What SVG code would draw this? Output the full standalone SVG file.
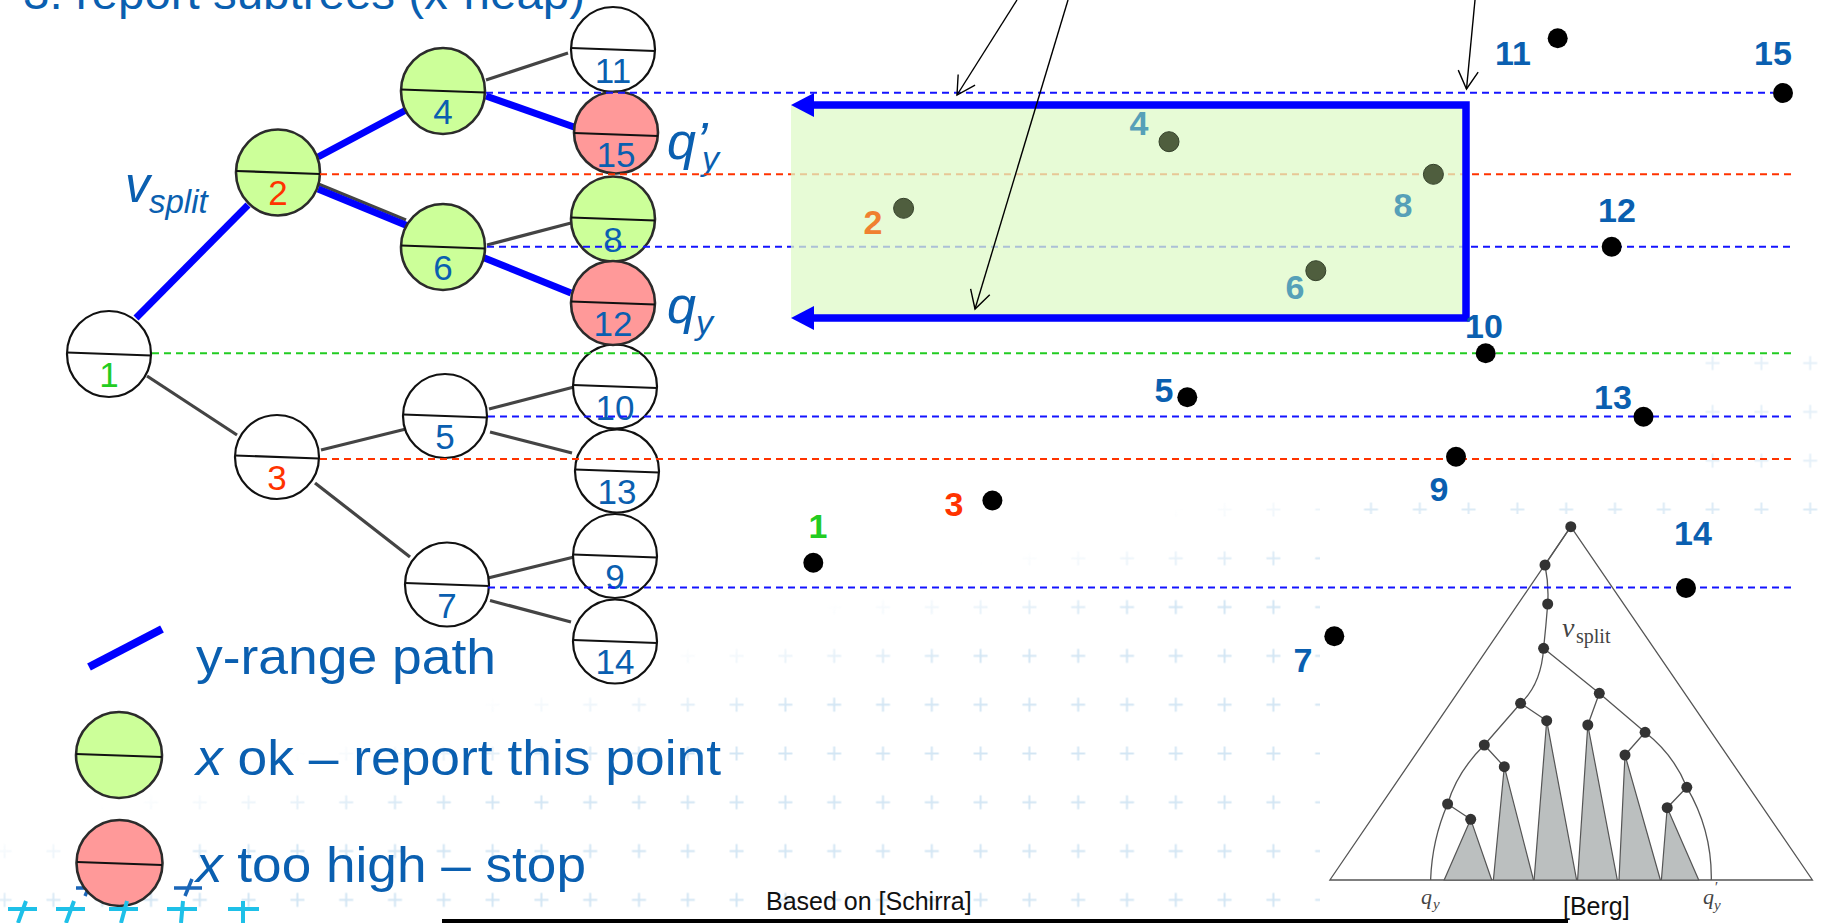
<svg xmlns="http://www.w3.org/2000/svg" width="1832" height="923" viewBox="0 0 1832 923">
<style>
text{font-family:"Liberation Sans",Arial,sans-serif}
.nd{stroke:#2b2b2b;stroke-width:2.6}
.wh{fill:#fff;stroke:#111;stroke-width:2.2}
.gr{fill:#ccff99}
.rd{fill:#ff9999}
.dv{stroke:#111;stroke-width:2.2}
.nl{font-size:35px;fill:#0a5fb0;text-anchor:middle}
.bp{stroke:#0000ff;stroke-width:7;fill:none}
.ed{stroke:#444;stroke-width:3.2}
.da{stroke-width:2;stroke-dasharray:7 5;fill:none}
.db{stroke:#1414ff}
.dr{stroke:#ff3300}
.dg{stroke:#22cc22}
.pt{fill:#000}
.pin{fill:#4f5e3e;stroke:#34402a;stroke-width:1}
.pl{font-size:34px;font-weight:bold;fill:#0a5fb0;text-anchor:middle}
.ar{stroke:#000;stroke-width:1.4;fill:none;marker-end:url(#open)}
.lg{font-size:50px;fill:#0a5fb0}
.bl{stroke:#555;stroke-width:1.3;fill:none}
.st{fill:#bbbfbf;stroke:#555;stroke-width:1.2}
.bd{fill:#333}
.cy{stroke:#1ec0e8;stroke-width:4;fill:none}
.cb{stroke:#1a66b8;stroke-width:3.5;fill:none}
.sf{font-family:"Liberation Serif","Times New Roman",serif;fill:#444}
</style>
<defs>
<marker id="open" markerUnits="userSpaceOnUse" markerWidth="22" markerHeight="22" refX="19" refY="11" orient="auto" overflow="visible">
<path d="M1,1 L19,11 L1,21" fill="none" stroke="#000" stroke-width="1.4"/>
</marker>
<pattern id="cross" patternUnits="userSpaceOnUse" x="-19.8" y="-2.9" width="48.8" height="48.8">
<path d="M17.4,24.4 H31.4 M24.4,17.4 V31.4" stroke="#d3e6f4" stroke-width="2"/>
</pattern>
<linearGradient id="gA" gradientUnits="userSpaceOnUse" x1="642" y1="656" x2="666" y2="743">
<stop offset="0" stop-color="#000"/>
<stop offset="1" stop-color="#fff"/>
</linearGradient>
<mask id="mA"><rect x="0" y="470" width="1320" height="453" fill="url(#gA)"/></mask>
</defs>

<g id="background">
<rect width="1832" height="923" fill="#fff"/>
<rect x="0" y="470" width="1320" height="453" fill="url(#cross)" mask="url(#mA)"/>
<rect x="1360" y="490" width="472" height="24" fill="url(#cross)" opacity="0.8"/>
<rect x="1690" y="340" width="142" height="150" fill="url(#cross)" opacity="0.6"/>
</g>

<text id="title" x="23" y="9" font-size="46" fill="#0a5fb0" textLength="562" lengthAdjust="spacingAndGlyphs">3. report subtrees (x-heap)</text>

<g id="berg-figure">
<rect x="1320" y="514" width="512" height="405" fill="#fff"/>
<polygon class="bl" points="1570.8,526.7 1329.9,880 1812.4,880"/>
<polygon class="st" points="1470.7,819.3 1444.2,880 1491.7,880"/>
<polygon class="st" points="1504.3,766.7 1493.4,880 1533.5,880"/>
<polygon class="st" points="1546.7,720.7 1534.1,880 1576.6,880"/>
<polygon class="st" points="1587.8,725 1577.6,880 1617.3,880"/>
<polygon class="st" points="1625,755 1619,880 1660.4,880"/>
<polygon class="st" points="1667.2,807.7 1661.4,880 1698.7,880"/>
<path class="bl" d="M1570.8,526.7 L1545,565 Q1549,585 1547.7,604 Q1546,626 1543.6,648.3 C1542,672 1535,690 1520.6,703.3 L1484.3,745 Q1457,772 1447.6,804 Q1432,840 1430.6,880"/>
<path class="bl" d="M1520.6,703.3 L1546.7,720.7 M1484.3,745 L1504.3,766.7 M1447.6,804 L1470.7,819.3"/>
<path class="bl" d="M1543.6,648.3 L1599.3,693.3 L1645.1,732.3 Q1674,755 1686.8,787.3 Q1712,830 1711.3,880"/>
<path class="bl" d="M1599.3,693.3 L1587.8,725 M1645.1,732.3 L1625,755 M1686.8,787.3 L1667.2,807.7"/>
<g class="bd">
<circle cx="1570.8" cy="526.7" r="5.5"/>
<circle cx="1545" cy="565" r="5.5"/>
<circle cx="1547.7" cy="604" r="5.5"/>
<circle cx="1543.6" cy="648.3" r="5.5"/>
<circle cx="1520.6" cy="703.3" r="5.5"/>
<circle cx="1599.3" cy="693.3" r="5.5"/>
<circle cx="1546.7" cy="720.7" r="5.5"/>
<circle cx="1484.3" cy="745" r="5.5"/>
<circle cx="1504.3" cy="766.7" r="5.5"/>
<circle cx="1447.6" cy="804" r="5.5"/>
<circle cx="1470.7" cy="819.3" r="5.5"/>
<circle cx="1587.8" cy="725" r="5.5"/>
<circle cx="1645.1" cy="732.3" r="5.5"/>
<circle cx="1625" cy="755" r="5.5"/>
<circle cx="1686.8" cy="787.3" r="5.5"/>
<circle cx="1667.2" cy="807.7" r="5.5"/>
</g>
<text class="sf" x="1562" y="637" font-size="28" font-style="italic">v</text>
<text class="sf" x="1576" y="643" font-size="20">split</text>
<text class="sf" x="1421" y="904" font-size="22" font-style="italic">q</text>
<text class="sf" x="1433" y="909" font-size="15" font-style="italic">y</text>
<text class="sf" x="1703" y="904" font-size="22" font-style="italic">q</text>
<text class="sf" x="1714" y="892" font-size="15" font-style="italic">′</text>
<text class="sf" x="1714" y="910" font-size="15" font-style="italic">y</text>
<text x="1563" y="915" font-size="25" fill="#111">[Berg]</text>
</g>

<g id="connectors">
<line class="bp" x1="136" y1="318" x2="248" y2="205"/>
<line class="bp" x1="318" y1="157" x2="406" y2="110"/>
<line class="ed" x1="316" y1="183" x2="406" y2="220"/>
<line class="bp" x1="318" y1="189" x2="408" y2="226"/>
<line class="bp" x1="486" y1="96" x2="574" y2="127"/>
<line class="bp" x1="482" y1="257" x2="571" y2="293"/>
<line class="ed" x1="486" y1="80" x2="568" y2="53"/>
<line class="ed" x1="487" y1="245" x2="571" y2="223"/>
<line class="ed" x1="147" y1="376" x2="237" y2="435"/>
<line class="ed" x1="321" y1="450" x2="410" y2="428"/>
<line class="ed" x1="315" y1="483" x2="410" y2="557"/>
<line class="ed" x1="489" y1="409" x2="574" y2="387"/>
<line class="ed" x1="490" y1="432" x2="572" y2="453"/>
<line class="ed" x1="488" y1="578" x2="574" y2="557"/>
<line class="ed" x1="490" y1="600.5" x2="571" y2="622"/>
</g>

<g id="n1"><ellipse class="wh" cx="109" cy="354" rx="42" ry="43"/><line class="dv" x1="67" y1="352.5" x2="151" y2="355.5"/><text class="nl" x="109" y="387" style="fill:#22cc22">1</text></g>
<g id="n2"><ellipse class="nd gr" cx="278" cy="172.5" rx="42" ry="43"/><line class="dv" x1="236" y1="171" x2="320" y2="174"/><text class="nl" x="278" y="205" style="fill:#ff3300">2</text></g>
<g id="n3"><ellipse class="wh" cx="277" cy="457" rx="42" ry="42"/><line class="dv" x1="235" y1="455.5" x2="319" y2="458.5"/><text class="nl" x="277" y="490" style="fill:#ff3300">3</text></g>
<g id="n4"><ellipse class="nd gr" cx="443" cy="91" rx="42" ry="43"/><line class="dv" x1="401" y1="89.5" x2="485" y2="92.5"/><text class="nl" x="443" y="124">4</text></g>
<g id="n5"><ellipse class="nd wh" cx="445" cy="416" rx="42" ry="42"/><line class="dv" x1="403" y1="414.5" x2="487" y2="417.5"/><text class="nl" x="445" y="449">5</text></g>
<g id="n6"><ellipse class="nd gr" cx="443" cy="247" rx="42" ry="43"/><line class="dv" x1="401" y1="245.5" x2="485" y2="248.5"/><text class="nl" x="443" y="280">6</text></g>
<g id="n7"><ellipse class="wh" cx="447" cy="584.5" rx="42" ry="42"/><line class="dv" x1="405" y1="583" x2="489" y2="586"/><text class="nl" x="447" y="618">7</text></g>
<g id="n8"><ellipse class="nd gr" cx="613" cy="219" rx="42" ry="42.5"/><line class="dv" x1="571" y1="217.5" x2="655" y2="220.5"/><text class="nl" x="613" y="252">8</text></g>
<g id="n9"><ellipse class="wh" cx="615" cy="556" rx="42" ry="42"/><line class="dv" x1="573" y1="554.5" x2="657" y2="557.5"/><text class="nl" x="615" y="589">9</text></g>
<g id="n10"><ellipse class="wh" cx="615" cy="386.5" rx="42" ry="42"/><line class="dv" x1="573" y1="385" x2="657" y2="388"/><text class="nl" x="615" y="420">10</text></g>
<g id="n11"><ellipse class="wh" cx="613" cy="49.5" rx="42" ry="42.5"/><line class="dv" x1="571" y1="48" x2="655" y2="51"/><text class="nl" x="613" y="83">11</text></g>
<g id="n12"><ellipse class="nd rd" cx="613" cy="303" rx="42" ry="42"/><line class="dv" x1="571" y1="301.5" x2="655" y2="304.5"/><text class="nl" x="613" y="336">12</text></g>
<g id="n13"><ellipse class="wh" cx="617" cy="471" rx="42" ry="41.5"/><line class="dv" x1="575" y1="469.5" x2="659" y2="472.5"/><text class="nl" x="617" y="504">13</text></g>
<g id="n14"><ellipse class="wh" cx="615" cy="641.5" rx="42" ry="42"/><line class="dv" x1="573" y1="640" x2="657" y2="643"/><text class="nl" x="615" y="674">14</text></g>
<g id="n15"><ellipse class="nd rd" cx="616" cy="132.5" rx="42" ry="41"/><line class="dv" x1="574" y1="133" x2="658" y2="136"/><text class="nl" x="616" y="167">15</text></g>

<g id="tree-labels" fill="#0a5fb0" font-style="italic">
<text x="125" y="202" font-size="50">v</text>
<text x="149" y="213" font-size="33">split</text>
<text x="667" y="159" font-size="52">q’</text>
<text x="702" y="170" font-size="34">y</text>
<text x="667" y="323" font-size="52">q</text>
<text x="696" y="334" font-size="34">y</text>
</g>

<g id="dashed-lines">
<line class="da db" x1="486" y1="92.7" x2="1773" y2="92.7"/>
<line class="da dr" x1="320" y1="174.3" x2="1793" y2="174.3"/>
<line class="da db" x1="487" y1="246.7" x2="1793" y2="246.7"/>
<line class="da dg" x1="152" y1="353.3" x2="1792" y2="353.3"/>
<line class="da db" x1="488" y1="416.5" x2="1792" y2="416.5"/>
<line class="da dr" x1="320" y1="459" x2="1792" y2="459"/>
<line class="da db" x1="488" y1="587.5" x2="1792" y2="587.5"/>
</g>

<g id="query-range">
<rect x="791" y="105" width="675" height="213" fill="#dffac8" opacity="0.75"/>
<path d="M812,105 H1466 V318 H812" fill="none" stroke="#0000ff" stroke-width="7.5" stroke-linejoin="miter"/>
<polygon points="791,105 814,93 814,117" fill="#0000ff"/>
<polygon points="791,318 814,306 814,330" fill="#0000ff"/>
</g>

<g id="points">
<circle class="pin" cx="1169" cy="141.7" r="10"/>
<circle class="pin" cx="1433.4" cy="174.3" r="10"/>
<circle class="pin" cx="903.6" cy="208.3" r="10"/>
<circle class="pin" cx="1315.8" cy="270.7" r="10"/>
<circle class="pt" cx="1557.7" cy="38.3" r="10"/>
<circle class="pt" cx="1783" cy="93" r="10"/>
<circle class="pt" cx="1611.7" cy="246.7" r="10"/>
<circle class="pt" cx="1485.7" cy="353.3" r="10"/>
<circle class="pt" cx="1643.5" cy="416.7" r="10"/>
<circle class="pt" cx="1456" cy="456.7" r="10"/>
<circle class="pt" cx="1187.3" cy="397.3" r="10"/>
<circle class="pt" cx="992.4" cy="500.5" r="10"/>
<circle class="pt" cx="813.3" cy="562.8" r="10"/>
<circle class="pt" cx="1334.3" cy="636.2" r="10"/>
<circle class="pt" cx="1686" cy="588" r="10"/>
</g>
<g id="point-labels">
<text class="pl" x="1513" y="65">11</text>
<text class="pl" x="1773" y="65">15</text>
<text class="pl" x="1617" y="222">12</text>
<text class="pl" x="1484" y="338">10</text>
<text class="pl" x="1613" y="409">13</text>
<text class="pl" x="1439" y="501">9</text>
<text class="pl" x="1164" y="402">5</text>
<text class="pl" x="954" y="516" style="fill:#ff3300">3</text>
<text class="pl" x="818" y="538" style="fill:#22cc22">1</text>
<text class="pl" x="1303" y="672">7</text>
<text class="pl" x="1693" y="545">14</text>
<text class="pl" x="1139" y="135" style="fill:#56a0b8">4</text>
<text class="pl" x="1403" y="217" style="fill:#56a0b8">8</text>
<text class="pl" x="873" y="234" style="fill:#f08030">2</text>
<text class="pl" x="1295" y="299" style="fill:#56a0b8">6</text>
</g>

<g id="pointer-arrows">
<path class="ar" d="M1017,0 L957,95"/>
<path class="ar" d="M1068,0 L975,309"/>
<path class="ar" d="M1475,0 L1466.5,89"/>
</g>

<g id="legend">
<line x1="89" y1="667" x2="162" y2="629" stroke="#0000ff" stroke-width="8"/>
<text class="lg" x="196" y="674" textLength="300" lengthAdjust="spacingAndGlyphs">y-range path</text>
<ellipse class="nd gr" cx="119" cy="755" rx="43" ry="43"/>
<line class="dv" x1="76" y1="754" x2="162" y2="757"/>
<text class="lg" x="196" y="775" textLength="525" lengthAdjust="spacingAndGlyphs"><tspan font-style="italic">x</tspan> ok – report this point</text>
<path class="cb" d="M76,888 H100 M92,880 L85,896"/>
<path class="cb" d="M174,888 H202 M192,879 L185,896"/>
<ellipse class="nd rd" cx="119.5" cy="863" rx="43" ry="43"/>
<line class="dv" x1="77" y1="862" x2="162" y2="865"/>
<text class="lg" x="196" y="882" textLength="390" lengthAdjust="spacingAndGlyphs"><tspan font-style="italic">x</tspan> too high – stop</text>
<path class="cy" d="M8,909 H37 M26,901 L18,923"/>
<path class="cy" d="M56,909 H85 M74,901 L66,923"/>
<path class="cy" d="M109,909 H138 M127,901 L121,923"/>
<path class="cy" d="M167,909 H197 M183,901 L181,923"/>
<path class="cy" d="M228,909 H259 M243,901 L243,923"/>
</g>

<g id="footer">
<line x1="442" y1="921" x2="1568" y2="921" stroke="#000" stroke-width="4"/>
<text x="766" y="910" font-size="25" fill="#111">Based on [Schirra]</text>
</g>
</svg>
